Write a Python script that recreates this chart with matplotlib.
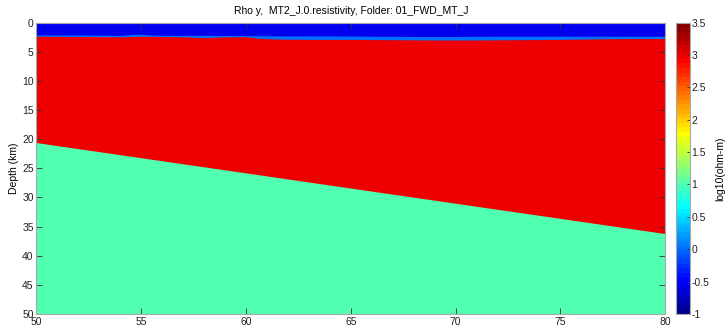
import numpy as np
import matplotlib
matplotlib.use("Agg")
import matplotlib.pyplot as plt
from matplotlib.colors import ListedColormap, Normalize
from matplotlib.cm import ScalarMappable

plt.rcParams['font.family'] = ['Liberation Sans', 'DejaVu Sans']
plt.rcParams['font.size'] = 7.5

# ---- model layers (log10 resistivity) ----
rho_water = -0.523      # sea water, 0.3 ohm-m
rho_sediment = 0.0      # 1 ohm-m
rho_crust = 3.0         # 1000 ohm-m
rho_mantle = 1.0        # 10 ohm-m

# seafloor depth (km) along profile
sea_x = [50, 52, 54, 54.6, 55.0, 55.5, 56, 58, 60, 62, 64, 66, 68, 70, 72, 75, 78, 80]
sea_z = [2.15, 2.15, 2.2, 2.05, 2.0, 2.15, 2.2, 2.2, 2.25, 2.3, 2.3, 2.35, 2.4, 2.4, 2.35, 2.35, 2.35, 2.35]

# base of sediments (km)
sed_x = [50, 52, 54, 55, 56, 57, 58, 59, 60, 60.6, 61.5, 63, 65, 67, 69, 71, 73, 75, 77, 78.5, 80]
sed_z = [2.35, 2.4, 2.45, 2.35, 2.4, 2.45, 2.6, 2.45, 2.45, 2.7, 2.85, 2.9, 2.9, 2.95, 3.0, 3.0, 2.95, 2.9, 2.8, 2.75, 2.75]

# dipping crust/mantle interface (km)
slab_x = [50, 80]
slab_z = [20.6, 36.2]

x_ticks = [50, 55, 60, 65, 70, 75, 80]
y_ticks = [0, 5, 10, 15, 20, 25, 30, 35, 40, 45, 50]
cb_ticks = [-1, -0.5, 0, 0.5, 1, 1.5, 2, 2.5, 3, 3.5]


def matlab_jet(m=64):
    n = int(np.ceil(m / 4))
    u = np.concatenate([np.arange(1, n + 1) / n, np.ones(n - 1), np.arange(n, 0, -1) / n])
    g = int(np.ceil(n / 2)) - (1 if m % 4 == 1 else 0) + np.arange(1, len(u) + 1)
    r = g + n
    b = g - n
    cmap = np.zeros((m, 3))
    for chan, idx in ((0, r), (1, g), (2, b)):
        ok = (idx >= 1) & (idx <= m)
        cmap[idx[ok] - 1, chan] = u[ok]
    return ListedColormap(cmap)


cmap = matlab_jet(64)
norm = Normalize(vmin=-1, vmax=3.5)


def col(v):
    return cmap(norm(v))


fig = plt.figure(figsize=(7.25, 3.29), dpi=100)
ax = fig.add_axes([0.0503, 0.0456, 0.8670, 0.8860])

xmin, xmax, zmax = 50, 80, 50
ax.fill_between([xmin, xmax], 0, zmax, color=col(rho_crust), lw=0)
ax.fill_between(slab_x, slab_z, zmax, color=col(rho_mantle), lw=0)
ax.fill_between(sed_x, 0, sed_z, color=col(rho_sediment), lw=0)
ax.fill_between(sea_x, 0, sea_z, color=col(rho_water), lw=0)

ax.set_xlim(xmin, xmax)
ax.set_ylim(zmax, 0)
ax.set_xticks(x_ticks)
ax.set_yticks(y_ticks)
ax.set_ylabel('Depth (km)', labelpad=2)
ax.set_title('Rho y,  MT2_J.0.resistivity, Folder: 01_FWD_MT_J', fontsize=7.5, pad=6)
ax.tick_params(direction='in', length=4, width=0.6, top=True, right=True,
               color='#333333', labelcolor='#222222', pad=2)
for s in ax.spines.values():
    s.set_color('#a8a8a8')
    s.set_linewidth(0.8)

cax = fig.add_axes([0.9324, 0.0456, 0.0193, 0.8860])
cb = fig.colorbar(ScalarMappable(norm=norm, cmap=cmap), cax=cax, ticks=cb_ticks)
cb.outline.set_edgecolor('#a8a8a8')
cb.outline.set_linewidth(0.8)
cax.tick_params(direction='in', length=2, width=0.6, color='#333333',
                labelcolor='#222222', pad=1)
cax.set_yticklabels(['-1', '-0.5', '0', '0.5', '1', '1.5', '2', '2.5', '3', '3.5'])
cb.set_label('log10(ohm-m)', labelpad=4)

fig.savefig('out.png', dpi=100)
